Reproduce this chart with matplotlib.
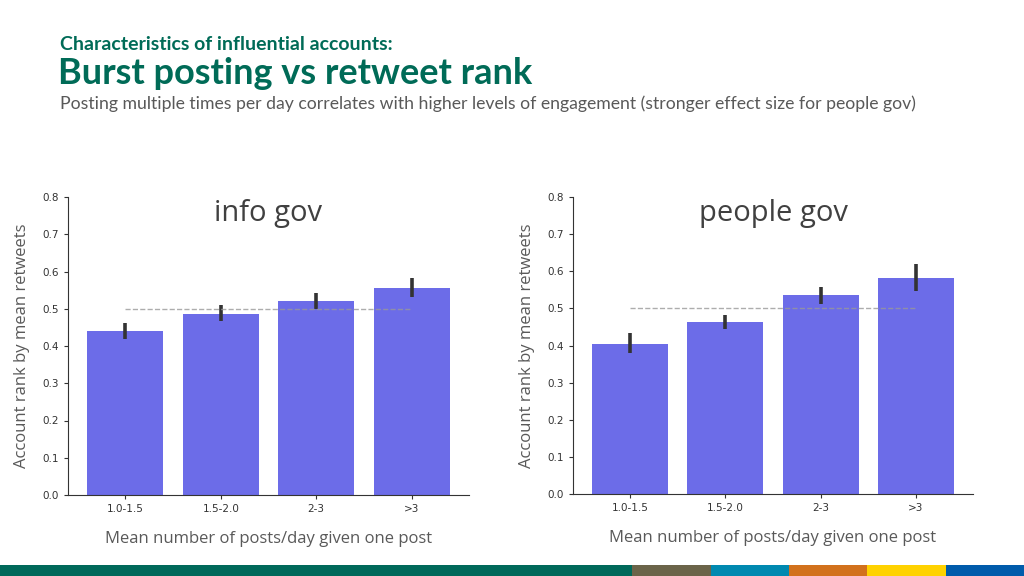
import matplotlib
matplotlib.use('Agg')
import matplotlib.pyplot as plt
import numpy as np

# Data
categories = ['1.0-1.5', '1.5-2.0', '2-3', '>3']
info_mean = [0.440, 0.487, 0.520, 0.557]
info_lo = [0.418, 0.468, 0.498, 0.532]
info_hi = [0.463, 0.509, 0.543, 0.582]
people_mean = [0.405, 0.463, 0.535, 0.583]
people_lo = [0.379, 0.444, 0.513, 0.547]
people_hi = [0.433, 0.483, 0.558, 0.619]
baseline = 0.5

strip_edges = [0, 632, 711, 789, 867, 946, 1024]
strip_colors = ['#00695a', '#6b6449', '#0089b0', '#d2711c', '#ffd200', '#005bab']

BAR = '#6c6ce8'
GREEN = '#006b57'
GREY = '#595959'
TITLE_FONT = 'Lato'
LABEL_FONT = 'Open Sans'

fig = plt.figure(figsize=(10.24, 5.76), dpi=100)
W, H = 1024, 576


def px_axes(x0, y0, x1, y1):
    return fig.add_axes([x0 / W, 1 - y1 / H, (x1 - x0) / W, (y1 - y0) / H])


def draw_panel(ax, title, mean, lo, hi):
    x = np.arange(len(categories))
    ax.bar(x, mean, width=0.8, color=BAR, zorder=2)
    yerr = [np.array(mean) - np.array(lo), np.array(hi) - np.array(mean)]
    ax.errorbar(x, mean, yerr=yerr, fmt='none', ecolor='#333333',
                elinewidth=2.6, capsize=0, zorder=3)
    ax.plot([x[0], x[-1]], [baseline, baseline], ls='--', color='#999999',
            lw=1.0, alpha=0.8, zorder=4)
    ax.set_xlim(-0.6, len(categories) - 0.4)
    ax.set_ylim(0, 0.8)
    ax.set_yticks(np.arange(0, 0.81, 0.1))
    ax.set_yticklabels([f'{v:.1f}' for v in np.arange(0, 0.81, 0.1)])
    ax.set_xticks(x)
    ax.set_xticklabels(categories)
    ax.tick_params(labelsize=7.5, colors='#333333', length=3)
    for s in ('top', 'right'):
        ax.spines[s].set_visible(False)
    for s in ('left', 'bottom'):
        ax.spines[s].set_color('#333333')
    ax.text(0.5, 0.945, title, transform=ax.transAxes, ha='center', va='center',
            fontsize=21, color='#404040', family=LABEL_FONT)
    ax.set_ylabel('Account rank by mean retweets', fontsize=12, color=GREY,
                  family=LABEL_FONT, labelpad=9)
    ax.set_xlabel('Mean number of posts/day given one post', fontsize=12,
                  color=GREY, family=LABEL_FONT, labelpad=12)


ax1 = px_axes(68, 197, 469, 495)
draw_panel(ax1, 'info gov', info_mean, info_lo, info_hi)
ax2 = px_axes(573, 197, 973, 494)
draw_panel(ax2, 'people gov', people_mean, people_lo, people_hi)

# Header text
fig.text(60 / W, 1 - 44 / H, 'Characteristics of influential accounts:',
         fontsize=14, fontweight='bold', color=GREEN, family=TITLE_FONT,
         va='center')
fig.text(58 / W, 1 - 73 / H, 'Burst posting vs retweet rank',
         fontsize=26, fontweight='bold', color=GREEN, family=TITLE_FONT,
         va='center')
fig.text(60 / W, 1 - 104 / H,
         'Posting multiple times per day correlates with higher levels of '
         'engagement (stronger effect size for people gov)',
         fontsize=12.7, color=GREY, family=TITLE_FONT, va='center')

# Bottom colour strip
strip = fig.add_axes([0, 0, 1, 11 / H])
strip.set_xlim(0, W)
strip.set_ylim(0, 1)
for a, b, c in zip(strip_edges[:-1], strip_edges[1:], strip_colors):
    strip.axvspan(a, b, color=c, lw=0)
strip.axis('off')

fig.savefig('out.png', dpi=100, facecolor='white')
